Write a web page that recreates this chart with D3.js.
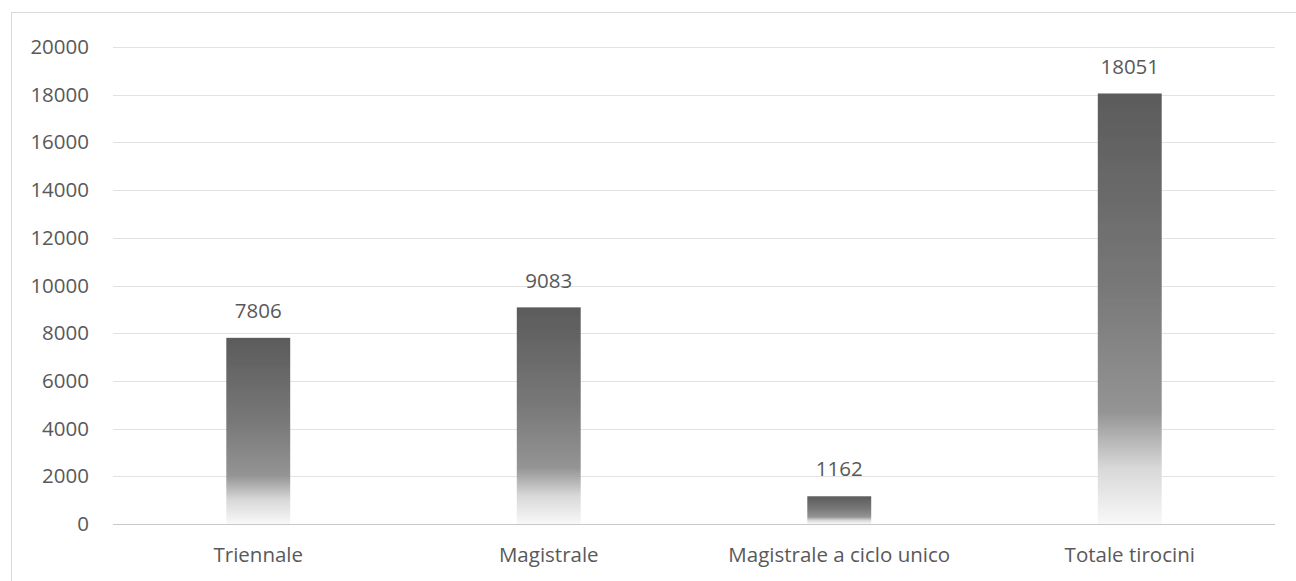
<!DOCTYPE html>
<html>
<head>
<meta charset="utf-8">
<script src="https://cdn.jsdelivr.net/npm/d3@7"></script>
<style>
  html, body { margin: 0; padding: 0; background: #fff; }
  svg { display: block; }
  text { font-family: "Open Sans", sans-serif; fill: #595959; }
</style>
</head>
<body>
<svg id="chart" width="1296" height="581"></svg>
<script>
// Tirocini per tipo di corso
const categories = ["Triennale", "Magistrale", "Magistrale a ciclo unico", "Totale tirocini"];
const values = [7806, 9083, 1162, 18051];
const yTicks = [0, 2000, 4000, 6000, 8000, 10000, 12000, 14000, 16000, 18000, 20000];

const svg = d3.select("#chart");
const W = 1296, H = 581;
const margin = { left: 113, right: 21, top: 47, bottom: 57 };
const FS = 20.5;

// outer chart frame
svg.append("rect")
  .attr("x", 11.5).attr("y", 12.5)
  .attr("width", W + 10).attr("height", H + 10)
  .attr("fill", "none").attr("stroke", "#d9d9d9").attr("stroke-width", 1);

const x = d3.scaleBand()
  .domain(categories)
  .range([margin.left, W - margin.right])
  .paddingInner(0.78).paddingOuter(0.39);

const y = d3.scaleLinear()
  .domain([0, 20000])
  .range([H - margin.bottom, margin.top]);

// vertical gradient fill shared by every bar
const defs = svg.append("defs");
const grad = defs.append("linearGradient")
  .attr("id", "barGrad").attr("x1", 0).attr("y1", 0).attr("x2", 0).attr("y2", 1);
[[0, "#5b5b5b"], [0.45, "#787878"], [0.74, "#949494"], [0.87, "#d8d8d8"], [1, "#f8f8f8"]]
  .forEach(([o, c]) => grad.append("stop").attr("offset", o).attr("stop-color", c));
defs.append("filter").attr("id", "soft")
  .append("feGaussianBlur").attr("stdDeviation", 0.7);

// gridlines
svg.append("g")
  .selectAll("line")
  .data(yTicks)
  .join("line")
  .attr("x1", margin.left).attr("x2", W - margin.right)
  .attr("y1", d => Math.round(y(d)) + 0.5).attr("y2", d => Math.round(y(d)) + 0.5)
  .attr("stroke", d => d === 0 ? "#c8c8c8" : "#e2e2e2")
  .attr("stroke-width", 1);

// y axis labels
const yAxis = d3.axisLeft(y).tickValues(yTicks).tickSize(0).tickPadding(0).tickFormat(d3.format("d"));
svg.append("g")
  .attr("transform", `translate(${margin.left - 24},0)`)
  .call(yAxis)
  .call(g => g.select(".domain").remove())
  .call(g => g.selectAll("text").attr("font-size", FS).attr("fill", "#595959")
    .style("font-family", "'Open Sans', sans-serif"));

// bars
svg.append("g")
  .selectAll("rect")
  .data(values)
  .join("rect")
  .attr("x", (d, i) => x(categories[i]))
  .attr("width", x.bandwidth())
  .attr("y", d => y(d))
  .attr("height", d => y(0) - y(d))
  .attr("fill", "url(#barGrad)")
  .attr("filter", "url(#soft)");

// value labels
svg.append("g")
  .selectAll("text")
  .data(values)
  .join("text")
  .attr("x", (d, i) => x(categories[i]) + x.bandwidth() / 2)
  .attr("y", d => y(d) - 27)
  .attr("dy", "0.35em")
  .attr("text-anchor", "middle")
  .attr("font-size", FS)
  .text(d => d);

// x axis labels
const xAxis = d3.axisBottom(x).tickSize(0).tickPadding(0);
svg.append("g")
  .attr("transform", `translate(0,${y(0) + 31})`)
  .call(xAxis)
  .call(g => g.select(".domain").remove())
  .call(g => g.selectAll("text").attr("font-size", FS).attr("fill", "#595959")
    .attr("dy", "0.35em")
    .style("font-family", "'Open Sans', sans-serif"));
</script>
</body>
</html>
